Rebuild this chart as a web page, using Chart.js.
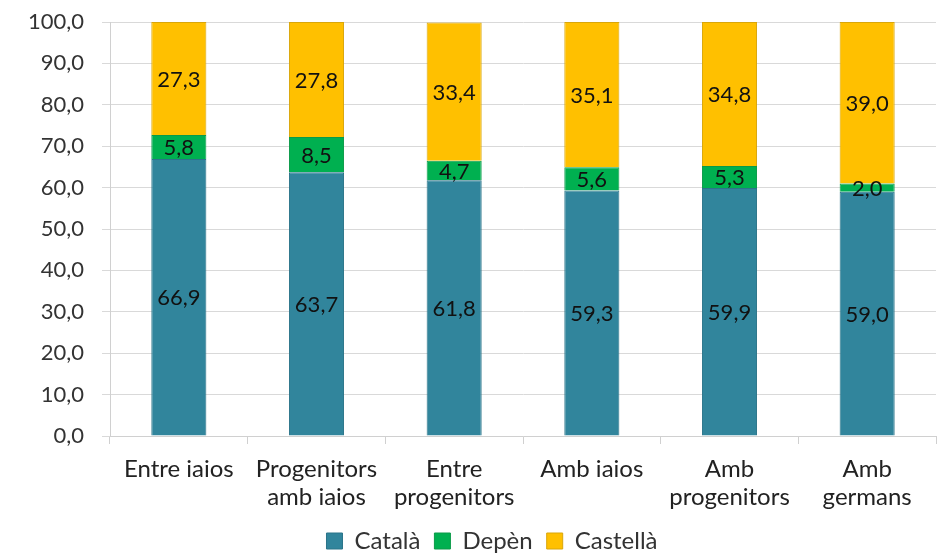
<!DOCTYPE html>
<html>
<head>
<meta charset="utf-8">
<script src="https://cdn.jsdelivr.net/npm/chart.js@4"></script>
<style>
  html, body { margin: 0; padding: 0; background: #fff; }
  #wrap { width: 941px; height: 554px; }
</style>
</head>
<body>
<div id="wrap"><canvas id="chart" width="941" height="554"></canvas></div>
<script>
// Categories (multiline labels) and series values
const categories = [
  "Entre iaios",
  ["Progenitors", "amb iaios"],
  ["Entre", "progenitors"],
  "Amb iaios",
  ["Amb", "progenitors"],
  ["Amb", "germans"],
];
const catala = [66.9, 63.7, 61.8, 59.3, 59.9, 59.0];
const depen = [5.8, 8.5, 4.7, 5.6, 5.3, 2.0];
const castella = [27.3, 27.8, 33.4, 35.1, 34.8, 39.0];

const fmt = (v) => v.toFixed(1).replace(".", ",");

// Etiquetes de valor al centre de cada segment
const segmentLabels = {
  id: "segmentLabels",
  afterDatasetsDraw(chart) {
    const ctx = chart.ctx;
    ctx.save();
    ctx.font = "22px Lato";
    ctx.fillStyle = "#111";
    ctx.textAlign = "center";
    ctx.textBaseline = "middle";
    chart.data.datasets.forEach((ds, i) => {
      const meta = chart.getDatasetMeta(i);
      meta.data.forEach((bar, j) => {
        const y = (bar.y + bar.base) / 2;
        ctx.fillText(fmt(ds.data[j]), bar.x, y + 1);
      });
    });
    ctx.restore();
  },
};

// La llegenda queda una mica desplaçada cap a la dreta
const legendShift = {
  id: "legendShift",
  beforeDraw(chart) {
    if (chart.legend && !chart.legend._shifted) {
      chart.legend.left += 24;
      chart.legend.right += 24;
      chart.legend._shifted = true;
    }
  },
};

const ctx = document.getElementById("chart").getContext("2d");
new Chart(ctx, {
  type: "bar",
  data: {
    labels: categories,
    datasets: [
      {
        label: "Català",
        data: catala,
        backgroundColor: "#31859c",
        borderColor: "#2b7489",
        borderWidth: 1,
      },
      {
        label: "Depèn",
        data: depen,
        backgroundColor: "#00b050",
        borderColor: "#0a9a48",
        borderWidth: 1,
      },
      {
        label: "Castellà",
        data: castella,
        backgroundColor: "#ffc000",
        borderColor: "#d9a60a",
        borderWidth: 1,
      },
    ],
  },
  options: {
    responsive: false,
    animation: false,
    layout: { padding: { top: 22, right: 5, left: 0, bottom: -9 } },
    datasets: {
      bar: { categoryPercentage: 0.4, barPercentage: 1.0 },
    },
    plugins: {
      legend: {
        position: "bottom",
        labels: {
          font: { family: "Lato", size: 24 },
          color: "#333",
          boxWidth: 16,
          boxHeight: 16,
          padding: 14,
        },
      },
      tooltip: { enabled: false },
    },
    scales: {
      x: {
        stacked: true,
        grid: {
          drawOnChartArea: false,
          drawTicks: true,
          tickLength: 8,
          color: "#d0d0d0",
        },
        border: { color: "#d0d0d0" },
        ticks: {
          font: { family: "Lato", size: 24, lineHeight: 1.17 },
          color: "#222",
          padding: 11,
          maxRotation: 0,
        },
        afterFit(scale) {
          scale.height = 79;
          // les etiquetes de dues línies sobresurten de la caixa de l'eix
          scale._computeLabelArea = () => undefined;
        },
      },
      y: {
        stacked: true,
        min: 0,
        max: 100,
        grid: {
          color: "#d9d9d9",
          tickLength: 8,
        },
        border: { color: "#d0d0d0" },
        ticks: {
          stepSize: 10,
          font: { family: "Lato", size: 22 },
          color: "#333",
          padding: 18,
          callback: (v) => fmt(v),
        },
        afterFit(scale) {
          scale.width = 110;
          scale.paddingTop = 0;
        },
      },
    },
  },
  plugins: [segmentLabels, legendShift],
});
</script>
</body>
</html>
